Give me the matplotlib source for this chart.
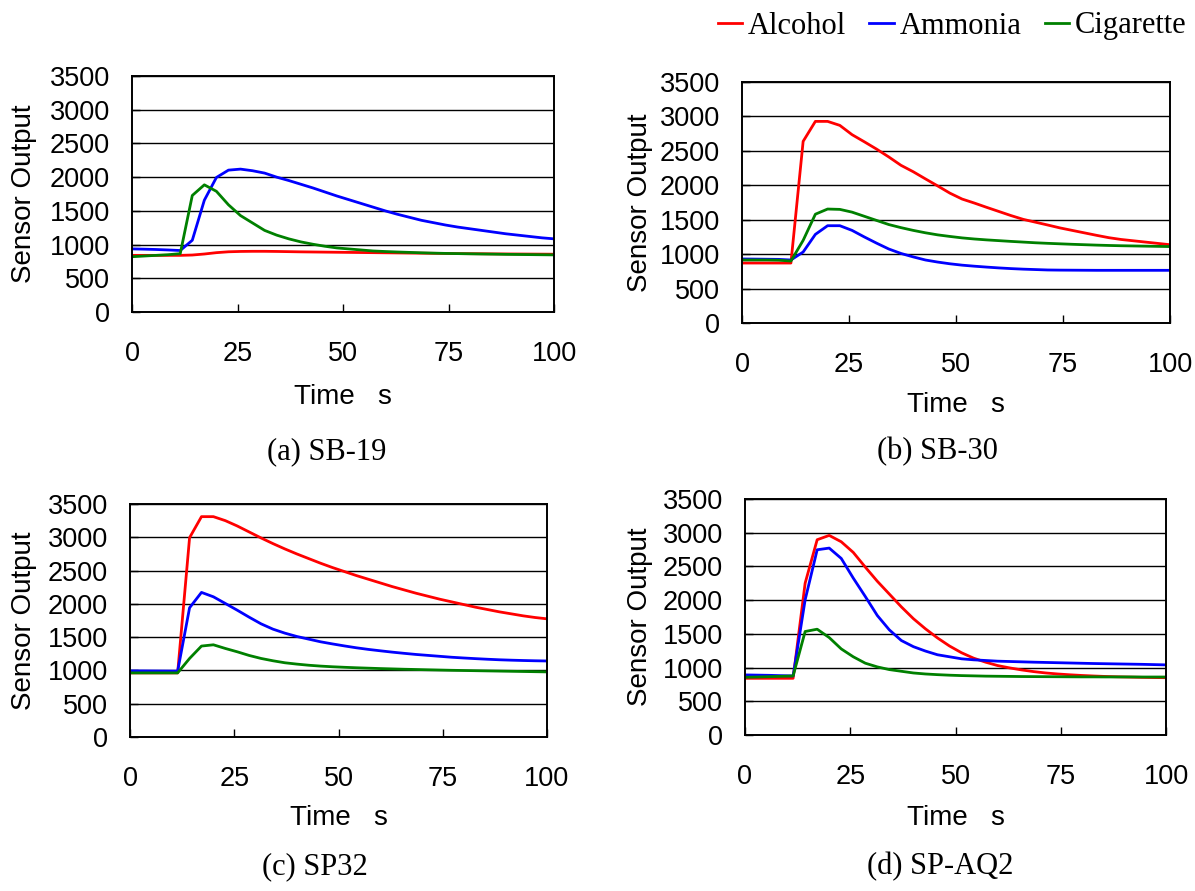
import numpy as np
import matplotlib
matplotlib.use('Agg')
import matplotlib.pyplot as plt

# sampling time, one reading roughly every 2.86 s
time = np.linspace(0, 100, 36)

gases = ['Alcohol', 'Ammonia', 'Cigarette']
colors = ['#FF0000', '#0000FF', '#008000']

# (a) SB-19
sb19_alcohol = [840, 840, 840, 840, 840, 845, 860, 880, 893, 898, 900, 900, 898, 895, 892, 890,
                888, 886, 884, 882, 880, 878, 876, 874, 872, 870, 868, 866, 865, 864, 862, 861,
                860, 859, 858, 857]
sb19_ammonia = [936, 932, 927, 920, 912, 1064, 1658, 1995, 2104, 2119, 2095, 2060, 2000, 1950, 1895,
                1840, 1780, 1720, 1665, 1610, 1555, 1500, 1450, 1405, 1360, 1325, 1290, 1260, 1235,
                1210, 1185, 1160, 1140, 1120, 1100, 1085]
sb19_cigarette = [820, 830, 840, 850, 865, 1728, 1886, 1790, 1590, 1430, 1320, 1210, 1140, 1085, 1040,
                  1005, 975, 950, 935, 920, 905, 897, 890, 884, 878, 873, 869, 866, 863, 860, 858,
                  855, 853, 851, 849, 847]

# (b) SB-30
sb30_alcohol = [871, 871, 871, 871, 871, 2638, 2928, 2928, 2870, 2735, 2632, 2526, 2412, 2290, 2197,
                2093, 1991, 1886, 1800, 1742, 1680, 1620, 1560, 1505, 1464, 1423, 1381, 1345, 1309,
                1273, 1239, 1213, 1194, 1175, 1156, 1137]
sb30_ammonia = [930, 928, 926, 924, 915, 1031, 1287, 1413, 1413, 1345, 1250, 1160, 1075, 1010, 960,
                915, 885, 860, 840, 825, 812, 800, 790, 782, 776, 770, 768, 767, 766, 765, 765, 765,
                765, 765, 765, 765]
sb30_cigarette = [915, 915, 915, 912, 900, 1200, 1580, 1655, 1650, 1610, 1550, 1490, 1430, 1385, 1345,
                  1310, 1280, 1257, 1236, 1220, 1207, 1196, 1185, 1175, 1165, 1157, 1150, 1143, 1137,
                  1131, 1126, 1122, 1119, 1116, 1113, 1110]

# (c) SP32
sp32_alcohol = [963, 963, 963, 963, 963, 2994, 3310, 3310, 3250, 3170, 3080, 2990, 2905, 2825, 2750,
                2680, 2610, 2545, 2485, 2425, 2370, 2315, 2260, 2210, 2160, 2115, 2070, 2030, 1990,
                1950, 1915, 1880, 1850, 1820, 1795, 1775]
sp32_ammonia = [993, 993, 992, 991, 990, 1941, 2172, 2106, 2006, 1905, 1800, 1700, 1620, 1560, 1510,
                1470, 1430, 1398, 1368, 1340, 1316, 1295, 1275, 1257, 1240, 1226, 1212, 1198, 1187,
                1177, 1168, 1160, 1154, 1149, 1145, 1142]
sp32_cigarette = [963, 963, 963, 963, 963, 1180, 1366, 1385, 1330, 1280, 1225, 1180, 1145, 1115, 1095,
                  1078, 1065, 1055, 1047, 1040, 1034, 1028, 1023, 1018, 1014, 1010, 1006, 1002, 999,
                  996, 993, 990, 987, 984, 981, 978]

# (d) SP-AQ2
spaq2_alcohol = [841, 841, 841, 841, 841, 2252, 2896, 2960, 2866, 2708, 2490, 2280, 2090, 1900, 1725,
                 1575, 1440, 1320, 1220, 1140, 1080, 1030, 995, 965, 940, 920, 905, 893, 883, 875,
                 868, 863, 859, 855, 852, 850]
spaq2_ammonia = [891, 888, 885, 880, 876, 2005, 2747, 2772, 2619, 2327, 2054, 1772, 1559, 1401, 1310,
                 1245, 1190, 1160, 1130, 1115, 1105, 1095, 1090, 1085, 1080, 1076, 1072, 1068, 1064,
                 1060, 1057, 1054, 1051, 1048, 1044, 1040]
spaq2_cigarette = [856, 860, 865, 870, 876, 1535, 1569, 1445, 1277, 1160, 1065, 1010, 970, 945, 920,
                   905, 895, 887, 881, 877, 873, 871, 869, 867, 866, 865, 864, 863, 862, 862, 861,
                   861, 861, 860, 860, 860]

panel_titles = ['(a) SB-19', '(b) SB-30', '(c) SP32', '(d) SP-AQ2']
panel_data = [
    [sb19_alcohol, sb19_ammonia, sb19_cigarette],
    [sb30_alcohol, sb30_ammonia, sb30_cigarette],
    [sp32_alcohol, sp32_ammonia, sp32_cigarette],
    [spaq2_alcohol, spaq2_ammonia, spaq2_cigarette],
]

W, H = 1195, 891
# axes boxes in pixels: left, right, top, bottom
boxes = [(132, 554, 76, 312), (742, 1170, 82, 323), (130, 547, 504, 737), (745, 1166, 499, 735)]
title_pos = [(327, 452), (937, 452), (315, 867), (940, 867)]
ylab_x = [24, 640, 24, 640]
xlab_y = [397, 405, 818, 818]

sans = 'Liberation Sans'
serif = 'Liberation Serif'

fig = plt.figure(figsize=(W / 100, H / 100), dpi=100)

for i, (l, r, t, b) in enumerate(boxes):
    ax = fig.add_axes([l / W, (H - b) / H, (r - l) / W, (b - t) / H])
    for vals, gas, c in zip(panel_data[i], gases, colors):
        ax.plot(time, vals, color=c, lw=2.0, label=gas)
    ax.set_xlim(0, 100)
    ax.set_ylim(0, 3500)
    ax.set_xticks([0, 25, 50, 75, 100])
    ax.set_yticks(np.arange(0, 3501, 500))
    ax.grid(axis='y', color='black', lw=1)
    ax.set_axisbelow(True)
    for s in ax.spines.values():
        s.set_linewidth(1.4)
        s.set_color('black')
    ax.tick_params(direction='in', length=6, width=1, labelsize=19.5)
    ax.tick_params(axis='x', pad=21)
    ax.tick_params(axis='y', pad=16)
    for lab in ax.get_xticklabels() + ax.get_yticklabels():
        lab.set_fontfamily(sans)
    ax.set_ylabel('Sensor Output', fontsize=20, family=sans)
    ax.set_xlabel('Time   s', fontsize=20, family=sans)
    ax.yaxis.set_label_coords((ylab_x[i] - l) / (r - l), 0.5)
    ax.xaxis.set_label_coords(0.5, (b - xlab_y[i]) / (b - t))
    ax.xaxis.label.set_va('center')
    ax.yaxis.label.set_va('center')
    tx, ty = title_pos[i]
    fig.text(tx / W, 1 - ty / H, panel_titles[i], fontsize=22, family=serif,
             ha='center', va='center')
    if i == 0:
        handles, labels = ax.get_legend_handles_labels()

fig.legend(handles, labels, loc='center right', bbox_to_anchor=(1199 / W, 1 - 26 / H),
           ncol=3, frameon=False, prop={'family': serif, 'size': 22},
           handlelength=0.8, handletextpad=0.2, columnspacing=0.75, borderaxespad=0)

fig.savefig('out.png', dpi=100)
